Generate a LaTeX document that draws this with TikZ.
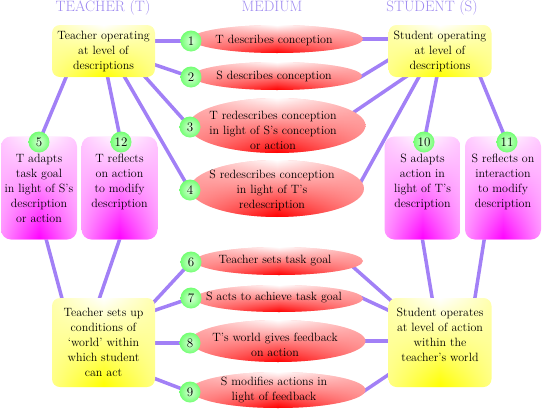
\documentclass[tikz,border=0pt]{standalone}
\usepackage{fontspec}
\usepackage{xcolor}
\usetikzlibrary{shapes.geometric,fadings,backgrounds}
\definecolor{linkpurple}{RGB}{162,128,246}
\definecolor{headpurple}{RGB}{158,138,240}
\tikzfading[name=midstripe,left color=transparent!100,
  right color=transparent!100,middle color=transparent!0]

\begin{document}
\begin{tikzpicture}[
  x=1pt,y=-1pt,
  txt/.style={font=\fontsize{12}{15}\selectfont,align=center,inner sep=0pt},
  head/.style={font=\fontsize{15}{17}\selectfont,text=headpurple,anchor=base},
  glossy/.style n args={3}{top color=#1,bottom color=#2,
    path picture={\shade[top color=white,middle color=#1,bottom color=#3,
      path fading=midstripe] (path picture bounding box.south west)
      rectangle (path picture bounding box.north east);}},
  level/.style={rectangle,rounded corners=8pt,glossy={yellow!32}{yellow!48}{yellow},
    minimum width=103pt,inner sep=0pt,txt},
  reflect/.style={rectangle,rounded corners=10pt,glossy={magenta!22}{magenta!42}{magenta},
    minimum width=76pt,minimum height=103pt,inner sep=0pt,txt},
  medium/.style={ellipse,glossy={red!32}{red!48}{red},inner sep=0pt},
  num/.style={circle,inner color=green!15,outer color=green!55,minimum size=21pt,
    inner sep=0pt,font=\fontsize{13}{13}\selectfont},
  link/.style={draw=linkpurple,line width=3.5pt,shorten <=-4pt,shorten >=-4pt}
]
  \useasboundingbox (0,0) rectangle (544,410);

  % column heads
  \node[head] (hT) at (103,11) {TEACHER (T)};
  \node[head] (hM) at (272,11) {MEDIUM};
  \node[head] (hS) at (432,11) {STUDENT (S)};

  % levels of the two parties
  \node[level,minimum height=52pt] (tl) at (103.5,51) {Teacher operating\\at level of\\descriptions};
  \node[level,minimum height=52pt] (tr) at (440,51) {Student operating\\at level of\\descriptions};
  \node[level,minimum height=89pt] (bl) at (103.5,342.5)
    {Teacher sets up\\conditions of\\`world' within\\which student\\can act};
  \node[level,minimum height=89pt] (br) at (440,342.5)
    {Student operates\\at level of action\\within the\\teacher's world\\\mbox{}};

  % reflection boxes
  \node[reflect] (p5) at (39,188) {T adapts\\task goal\\in light of S's\\description\\or action};
  \node[reflect] (p12) at (119.5,188) {T reflects\\on action\\to modify\\description\\\mbox{}};
  \node[reflect] (p10) at (422.5,188) {S adapts\\action in\\light of T's\\description\\\mbox{}};
  \node[reflect] (p11) at (503,188) {S reflects on\\interaction\\to modify\\description\\\mbox{}};

  % the medium
  \node[medium,minimum width=172pt,minimum height=28pt] (e1) at (277,39) {};
  \node[medium,minimum width=170pt,minimum height=28pt] (e2) at (277,76) {};
  \node[medium,minimum width=177pt,minimum height=55pt] (e3) at (277,125.5) {};
  \node[medium,minimum width=174pt,minimum height=57pt] (e4) at (277,188.5) {};
  \node[medium,minimum width=168pt,minimum height=28pt] (e6) at (279,261) {};
  \node[medium,minimum width=168pt,minimum height=27pt] (e7) at (279,298.5) {};
  \node[medium,minimum width=175pt,minimum height=42pt] (e8) at (278,341) {};
  \node[medium,minimum width=175pt,minimum height=36pt] (e9) at (278,390) {};
  \node[txt] (t1) at (274,40) {T describes conception};
  \node[txt] (t2) at (274,76) {S describes conception};
  \node[txt] (t3) at (273,130) {T redescribes conception\\in light of S's conception\\or action};
  \node[txt] (t4) at (272,190) {S redescribes conception\\in light of T's\\redescription};
  \node[txt] (t6) at (275,261) {Teacher sets task goal};
  \node[txt] (t7) at (274,298) {S acts to achieve task goal};
  \node[txt] (t8) at (275,345) {T's world gives feedback\\on action};
  \node[txt] (t9) at (274,390) {S modifies actions in\\light of feedback};

  % step numbers
  \node[num] (c1) at (191,41) {1};
  \node[num] (c2) at (191,77) {2};
  \node[num] (c3) at (190,127) {3};
  \node[num] (c4) at (190,190) {4};
  \node[num] (c5) at (39,142) {5};
  \node[num] (c6) at (191,262) {6};
  \node[num] (c7) at (191,298) {7};
  \node[num] (c8) at (190,343) {8};
  \node[num] (c9) at (190,392) {9};
  \node[num] (c10) at (424,142) {10};
  \node[num] (c11) at (507,142) {11};
  \node[num] (c12) at (121,142) {12};

  \begin{scope}[on background layer]
    \draw[link] (tl.east |- c1) -- (c1);
    \draw[link] (tl.-15) -- (c2);
    \draw[link] (tl.-32) -- (c3);
    \draw[link] (tl.-51) -- (c4);
    \draw[link] (tl.-145) -- (c5);
    \draw[link] (tl.-81) -- (c12);
    \draw[link] (e1.east) -- (e1.east -| tr.west);
    \draw[link] (e2.east) -- (tr.190);
    \draw[link] (e3.10) -- (tr.217);
    \draw[link] (e4.5) -- (tr.231);
    \draw[link] (tr.263) -- (c10);
    \draw[link] (tr.-33) -- (c11);
    \draw[link] (p5.-82) -- (bl.133);
    \draw[link] (p12.south) -- (bl.95);
    \draw[link] (p10.south) -- (br.100);
    \draw[link] (p11.-110) -- (br.52);
    \draw[link] (bl.39) -- (c6);
    \draw[link] (bl.32) -- (c7);
    \draw[link] (bl.east |- c8) -- (c8);
    \draw[link] (bl.-35) -- (c9);
    \draw[link] (e6.-5) -- ([xshift=3pt,yshift=-3pt]br.north west);
    \draw[link] (e7.east) -- (br.148);
    \draw[link] (e8.east) -- (e8.east -| br.west);
    \draw[link] (e9.east) -- (br.212);
  \end{scope}
\end{tikzpicture}
\end{document}
